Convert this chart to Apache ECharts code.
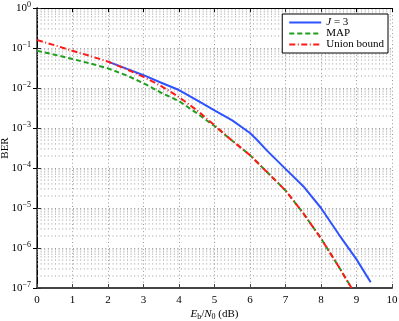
<!DOCTYPE html>
<html>
<head>
<meta charset="utf-8">
<script src="https://cdn.jsdelivr.net/npm/echarts@6/dist/echarts.min.js"></script>
<style>
  html, body { margin: 0; padding: 0; background: #fff; }
  #chart { width: 399px; height: 321px; }
</style>
</head>
<body>
<div id="chart"></div>
<script>
// Eb/N0 (dB) and BER
const snrJ3 = [2.0, 2.5, 3.0, 3.5, 4.0, 4.5, 5.0, 5.5, 6.0, 6.2, 6.5, 7.0, 7.5, 8.0, 8.5, 9.0, 9.4]
const berJ3 = [4.57e-2, 3.09e-2, 2.09e-2, 1.35e-2, 8.9e-3, 5.0e-3, 2.75e-3, 1.55e-3, 7.5e-4, 5.0e-4, 2.6e-4, 9.5e-5, 3.5e-5, 1.0e-5, 2.2e-6, 5.2e-7, 1.4e-7]

const snrMap = [0, 0.5, 1.0, 1.5, 2.0, 2.5, 3.0, 3.5, 4.0, 4.5, 5.0, 5.5, 6.0, 6.5, 7.0, 7.5, 8.0, 8.5, 8.86]
const berMap = [8.5e-2, 6.8e-2, 5.3e-2, 4.1e-2, 3.1e-2, 2.1e-2, 1.32e-2, 7.6e-3, 4.7e-3, 2.35e-3, 1.12e-3, 4.8e-4, 2.1e-4, 7.6e-5, 2.75e-5, 7.4e-6, 1.74e-6, 3.4e-7, 1.0e-7]

const snrUb = [0, 0.5, 1.0, 1.5, 2.0, 2.5, 3.0, 3.5, 4.0, 4.5, 5.0, 5.5, 6.0, 6.5, 7.0, 7.5, 8.0, 8.5, 8.86]
const berUb = [1.58e-1, 1.17e-1, 8.5e-2, 6.3e-2, 4.57e-2, 3.0e-2, 1.9e-2, 1.12e-2, 5.9e-3, 2.8e-3, 1.17e-3, 4.8e-4, 2.1e-4, 7.6e-5, 2.75e-5, 7.4e-6, 1.74e-6, 3.4e-7, 1.0e-7]

const seriesNames = ['J = 3', 'MAP', 'Union bound']

// log-axis minor grid: 2..9 times each decade
const decades = [1e-7, 1e-6, 1e-5, 1e-4, 1e-3, 1e-2, 1e-1]
const minorSteps = [2, 3, 4, 5, 6, 7, 8, 9]

const serif = 'Liberation Serif, Times New Roman, serif'
const dotGrid = { color: '#9a9a9a', width: 1, type: [1, 2.6] }

const pairs = (xs, ys) => xs.map((x, i) => [x, ys[i]])
const minorVals = []
decades.forEach(d => minorSteps.forEach(m => minorVals.push([0, d * m])))

// horizontal dotted line at each minor value, placed through the axes
function minorGridItem(params, api) {
  const v = api.value(1)
  const a = api.coord([0, v])
  const b = api.coord([10, v])
  return {
    type: 'line',
    shape: { x1: a[0], y1: a[1], x2: b[0], y2: b[1] },
    style: { stroke: dotGrid.color, lineWidth: 1, lineDash: dotGrid.type },
    silent: true,
  }
}

const chart = echarts.init(document.getElementById('chart'))
chart.setOption({
  animation: false,
  backgroundColor: '#fff',
  grid: { left: 37, right: 7, top: 8, bottom: 33, containLabel: false, outerBoundsMode: 'none' },
  legend: {
    data: seriesNames,
    orient: 'vertical',
    right: 11, top: 14,
    backgroundColor: '#fff',
    borderColor: '#000', borderWidth: 1, borderRadius: 0,
    padding: [3, 4, 3, 6],
    itemWidth: 32, itemHeight: 10, itemGap: 0,
    itemStyle: { opacity: 0 },
    textStyle: { fontFamily: serif, fontSize: 11, color: '#000', rich: { i: { fontFamily: serif, fontSize: 11, fontStyle: 'italic', color: '#000' } } },
    formatter: n => n === 'J = 3' ? '{i|J} = 3' : n,
  },
  xAxis: [
    {
      type: 'value', min: 0, max: 10, interval: 1, position: 'bottom',
      axisLine: { lineStyle: { color: '#444', width: 2 } },
      axisTick: { inside: true, length: 4, lineStyle: { color: '#444' } },
      axisLabel: { fontFamily: serif, fontSize: 11, color: '#000', margin: 7 },
      splitLine: { show: true, lineStyle: dotGrid },
      name: '{e|E}{s|b}{t|/}{e|N}{s|0}{t| (dB)}',
      nameLocation: 'middle', nameGap: 19, nameMoveOverlap: false,
      nameTextStyle: {
        rich: {
          e: { fontFamily: serif, fontSize: 11, fontStyle: 'italic', color: '#000' },
          s: { fontFamily: serif, fontSize: 8, color: '#000', padding: [6, 0, 0, 0] },
          t: { fontFamily: serif, fontSize: 11, color: '#000' },
        },
      },
    },
    {
      type: 'value', min: 0, max: 10, interval: 1, position: 'top',
      axisLine: { lineStyle: { color: '#000', width: 1 } },
      axisTick: { inside: true, length: 4, lineStyle: { color: '#000' } },
      axisLabel: { show: false }, splitLine: { show: false },
    },
  ],
  yAxis: [
    {
      type: 'log', logBase: 10, min: 1e-7, max: 1, splitNumber: 7, interval: 1,
      axisLine: { show: true, lineStyle: { color: '#333', width: 1.5 } },
      axisTick: { show: true, inside: true, length: 4, lineStyle: { color: '#333' } },
      axisLabel: {
        margin: 6,
        formatter: v => {
          const e = Math.round(Math.log10(v))
          return '{b|10}{s|' + (e === 0 ? '0' : '\u2212' + (-e)) + '}'
        },
        rich: {
          b: { fontFamily: serif, fontSize: 11, color: '#000' },
          s: { fontFamily: serif, fontSize: 8, color: '#000', padding: [0, 0, 7, 0] },
        },
      },
      splitLine: { show: true, lineStyle: dotGrid },
      name: 'BER', nameLocation: 'middle', nameGap: 26, nameMoveOverlap: false,
      nameTextStyle: { fontFamily: serif, fontSize: 11, color: '#000' },
    },
    {
      type: 'log', logBase: 10, min: 1e-7, max: 1, splitNumber: 7, interval: 1, position: 'right',
      axisLine: { show: true, lineStyle: { color: '#000', width: 1 } },
      axisTick: { show: true, inside: true, length: 4, lineStyle: { color: '#000' } },
      axisLabel: { show: false }, splitLine: { show: false },
    },
  ],
  series: [
    {
      name: 'minor', type: 'custom', z: 1, silent: true,
      renderItem: minorGridItem,
      data: minorVals,
    },
    {
      name: seriesNames[0], type: 'line', symbol: 'none', z: 4,
      data: pairs(snrJ3, berJ3),
      lineStyle: { color: '#2f52ff', width: 2 }, itemStyle: { color: '#2f52ff' },
    },
    {
      name: seriesNames[1], type: 'line', symbol: 'none', z: 3,
      data: pairs(snrMap, berMap),
      lineStyle: { color: '#1f9f1f', width: 2, type: [5, 3] }, itemStyle: { color: '#1f9f1f' },
    },
    {
      name: seriesNames[2], type: 'line', symbol: 'none', z: 4,
      data: pairs(snrUb, berUb),
      lineStyle: { color: '#ff1a1a', width: 2, type: [6, 2.5, 1, 2.5] }, itemStyle: { color: '#ff1a1a' },
    },
  ],
})
</script>
</body>
</html>
